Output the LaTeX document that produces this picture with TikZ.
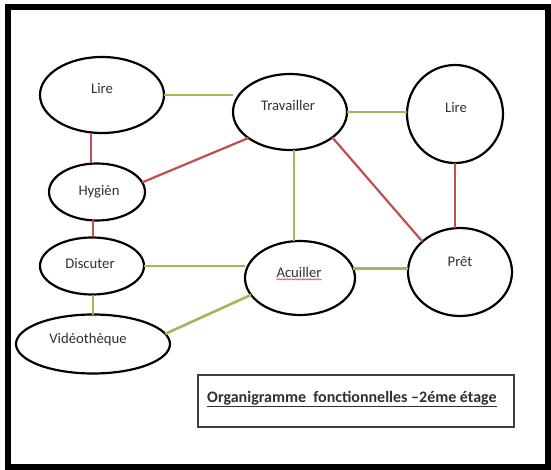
\documentclass[tikz,border=0pt]{standalone}
\usepackage{fontspec}
\setmainfont{Carlito}
\usetikzlibrary{shapes.geometric,decorations.pathmorphing}
\definecolor{lgreen}{HTML}{9BBB59}
\definecolor{lred}{HTML}{C0504D}
\definecolor{txtc}{HTML}{303030}
\tikzset{
  ell/.style={ellipse, draw=black, line width=2.2pt, inner sep=0pt, outer sep=0pt},
  txt/.style={inner sep=0pt, text=txtc, font=\fontsize{14.7}{16}\selectfont},
  gline/.style={draw=lgreen, line width=2.6pt},
  rline/.style={draw=lred, line width=2.2pt},
}
\begin{document}
\begin{tikzpicture}[x=1pt,y=-1pt]
\useasboundingbox (0,0) rectangle (551,470);
\fill[white] (0,0) rectangle (551,470);
\draw[line width=6pt] (8,7) rectangle (548,467);

% ellipses
\node[ell, minimum width=124pt, minimum height=76pt] (lireL) at (102,95) {};
\node[ell, minimum width=114pt, minimum height=76pt] (trav) at (290,112) {};
\node[ell, minimum width=96pt, minimum height=98pt] (lireR) at (455,114) {};
\node[ell, minimum width=96pt, minimum height=57pt] (hyg) at (97,192) {};
\node[ell, minimum width=104pt, minimum height=57pt] (disc) at (92,266) {};
\node[ell, minimum width=154pt, minimum height=59pt] (video) at (93,344) {};
\node[ell, minimum width=110pt, minimum height=74pt] (acu) at (300,278) {};
\node[ell, minimum width=104pt, minimum height=88pt] (pret) at (460,272) {};

% texts
\node[txt] (tLireL) at (102,88) {Lire};
\node[txt] (tTrav) at (288,105) {Travailler};
\node[txt] (tLireR) at (456,107) {Lire};
\node[txt] (tHyg) at (99,192) {Hygièn};
\node[txt] (tDisc) at (90,263) {Discuter};
\node[txt] (tVideo) at (88,340) {Vidéothèque};
\node[txt] (tAcu) at (299,272) {Acuiller};
\node[txt] (tPret) at (460,262) {Prêt};

% spelling mark under Acuiller
\draw[lred, line width=0.6pt, decorate, decoration={snake, amplitude=0.7pt, segment length=2.6pt}]
  ([yshift=-2pt]tAcu.south west) -- ([yshift=-2pt]tAcu.south east);

% connectors
\draw[gline] (lireL.east) -- (lireL.east -| trav.west);
\draw[gline] (trav.east) -- (trav.east -| lireR.west);
\draw[gline] ([xshift=4pt]trav.south) -- ([xshift=4pt]trav.south |- acu.north);
\draw[rline] (trav.-31) -- (pret.141);
\draw[rline] (lireR.south) -- (lireR.south |- pret.north);
\draw[gline] (acu.10) -- (acu.10 -| pret.west);
\draw[gline] (disc.east) -- (disc.east -| acu.west);
\draw[gline] (video.8) -- (acu.199);
\draw[rline] ([xshift=-11pt]lireL.south) -- ([xshift=-11pt]lireL.south |- hyg.north);
\draw[rline] (hyg.12) -- (trav.212);
\draw[rline] ([xshift=-4pt]hyg.south) -- ([xshift=-4pt]hyg.south |- disc.north);
\draw[gline] ([xshift=1pt]disc.south) -- ([xshift=1pt]disc.south |- video.north);

% title box
\node[draw=black!75, line width=1.1pt, minimum width=316pt, minimum height=52pt, inner sep=0pt] (titlebox) at (356,401) {};
\node[anchor=base west, inner sep=0pt, font=\fontsize{16}{18}\selectfont\bfseries, text=txtc] (title) at (207,402)
  {\underline{Organigramme\ \ fonctionnelles –2éme étage}};
\end{tikzpicture}
\end{document}
